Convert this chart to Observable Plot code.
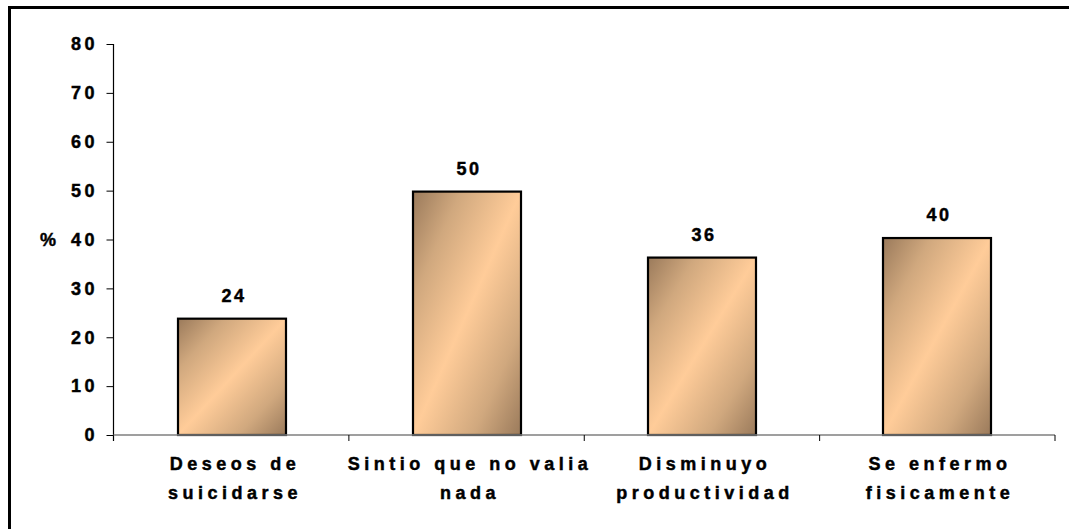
<!DOCTYPE html>
<html>
<head>
<meta charset="utf-8">
<script src="https://cdn.jsdelivr.net/npm/d3@7"></script>
<script src="https://cdn.jsdelivr.net/npm/@observablehq/plot@0.6"></script>
<style>
  html, body { margin: 0; padding: 0; background: #fff; }
  #wrap { position: relative; width: 1069px; height: 529px; overflow: hidden; }
  #border { position: absolute; left: 8px; top: 6px; width: 1100px; height: 600px;
            border-left: 3px solid #000; border-top: 3px solid #000; box-sizing: border-box; pointer-events: none; }
  svg { display: block; }
  svg text { stroke: #000; stroke-width: 0.45px; paint-order: stroke; }
</style>
</head>
<body>
<div id="wrap"><div id="chart"></div><div id="border"></div></div>
<script>
const categories = ["Deseos de suicidarse", "Sintio que no valia nada", "Disminuyo productividad", "Se enfermo fisicamente"];
const labelLine1 = ["Deseos de", "Sintio que no valia", "Disminuyo", "Se enfermo"];
const labelLine2 = ["suicidarse", "nada", "productividad", "fisicamente"];
const values = [23.8, 49.8, 36.3, 40.3];
const valueLabels = ["24", "50", "36", "40"];
const yTicks = [0, 10, 20, 30, 40, 50, 60, 70, 80];

const data = categories.map((c, i) => ({cat: c, value: values[i], label: valueLabels[i], l1: labelLine1[i], l2: labelLine2[i]}));

const FONT = "'Liberation Sans', Arial, sans-serif";

// custom mark: gradient defs + axis lines + category boundary ticks
function decorations(index, scales, vals, dim) {
  const g = d3.create("svg:g");
  const defs = g.append("defs");
  const grad = defs.append("linearGradient").attr("id", "barGrad")
    .attr("x1", 0).attr("y1", 0).attr("x2", 1).attr("y2", 1);
  grad.append("stop").attr("offset", "0%").attr("stop-color", "#9a7a5b");
  grad.append("stop").attr("offset", "22%").attr("stop-color", "#d0a87e");
  grad.append("stop").attr("offset", "50%").attr("stop-color", "#ffcc99");
  grad.append("stop").attr("offset", "78%").attr("stop-color", "#d0a87e");
  grad.append("stop").attr("offset", "100%").attr("stop-color", "#9a7a5b");
  const x0 = dim.marginLeft, x1 = dim.width - dim.marginRight;
  const y0 = scales.y(0), yTop = scales.y(80);
  g.append("line").attr("x1", x0).attr("x2", x0).attr("y1", yTop).attr("y2", y0 + 6)
    .attr("stroke", "#000").attr("stroke-width", 1.2);
  g.append("line").attr("x1", x0).attr("x2", x1).attr("y1", y0).attr("y2", y0)
    .attr("stroke", "#7f7f7f").attr("stroke-width", 1.5);
  const step = (x1 - x0) / categories.length;
  for (let i = 1; i <= categories.length; i++) {
    const xx = x0 + i * step;
    g.append("line").attr("x1", xx).attr("x2", xx).attr("y1", y0).attr("y2", y0 + 6)
      .attr("stroke", "#000").attr("stroke-width", 1);
  }
  return g.node();
}

const plot = Plot.plot({
  width: 1069,
  height: 529,
  marginLeft: 113.5,
  marginRight: 14,
  marginTop: 44,
  marginBottom: 94,
  style: {fontFamily: FONT, fontSize: "18px", fontWeight: "bold", color: "#000", background: "transparent"},
  x: {domain: categories, paddingInner: 0.54, paddingOuter: 0.27, axis: null},
  y: {domain: [0, 80], axis: null},
  marks: [
    Plot.barY(data, {x: "cat", y: "value", fill: "url(#barGrad)", stroke: "#000", strokeWidth: 2.2}),
    decorations,
    Plot.axisY({ticks: yTicks, label: null, tickSize: 7, tickPadding: 9, stroke: "#000", fontSize: 18, fontWeight: "bold", fill: "#000", ariaDescription: "ylab"}),
    Plot.text(data, {x: "cat", y: "value", text: "label", dy: -23, dx: 1.5, lineAnchor: "middle", fontSize: 18, fontWeight: "bold", fill: "#000", ariaDescription: "vlab"}),
    Plot.text(data, {x: "cat", text: "l1", frameAnchor: "bottom", dy: 29, dx: 2.5, lineAnchor: "middle", fontSize: 18, fontWeight: "bold", fill: "#000", ariaDescription: "xlab"}),
    Plot.text(data, {x: "cat", text: "l2", frameAnchor: "bottom", dy: 58, dx: 2.5, lineAnchor: "middle", fontSize: 18, fontWeight: "bold", fill: "#000", ariaDescription: "xlab"}),
    Plot.text(["%"], {frameAnchor: "left", dx: -66, textAnchor: "middle", lineAnchor: "middle", fontSize: 18, fontWeight: "bold", fill: "#000"})
  ]
});

const s = d3.select(plot);
s.selectAll('g[aria-description="xlab"] text').style("letter-spacing", "4.5px");
s.selectAll('g[aria-description="vlab"] text').style("letter-spacing", "2.5px");
s.selectAll('g[aria-description="ylab"] text').style("letter-spacing", "3.5px");
document.getElementById("chart").appendChild(plot);
</script>
</body>
</html>
